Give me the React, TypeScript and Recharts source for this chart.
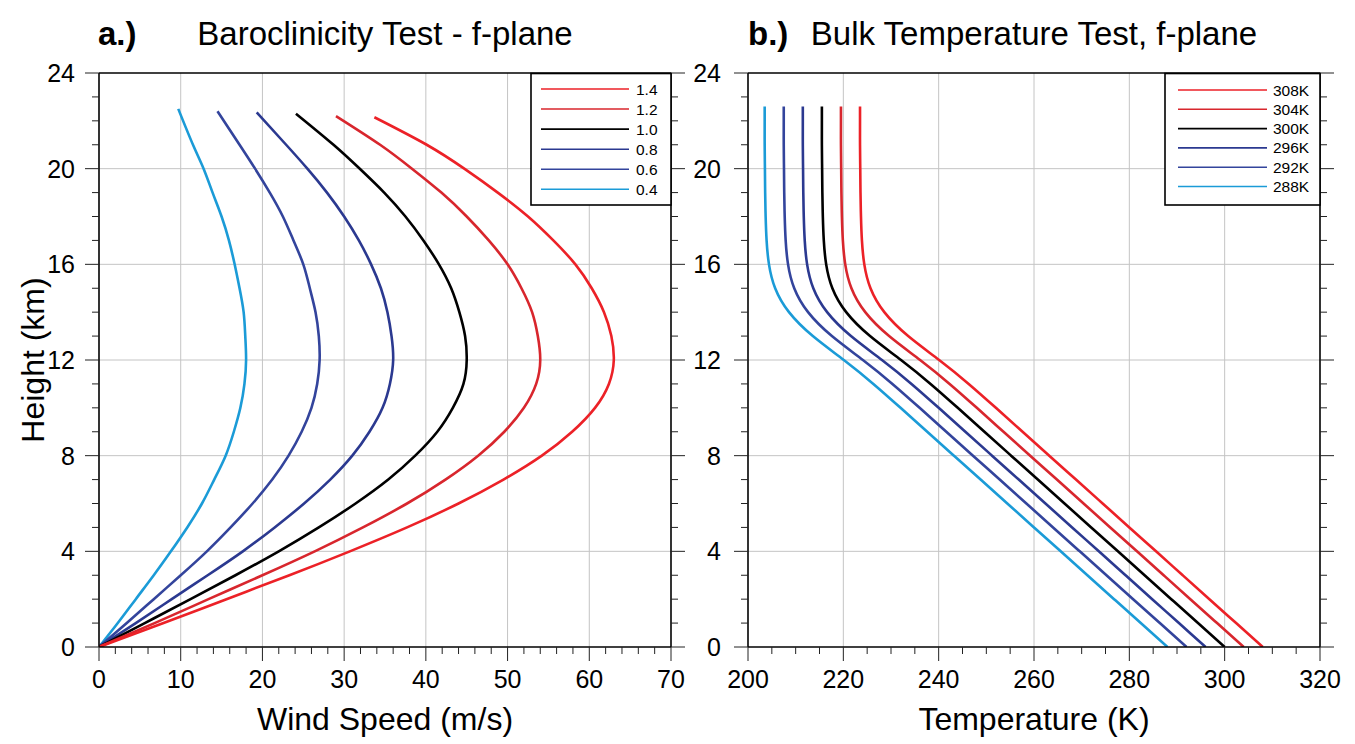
import React from "react";
import { LineChart, Line, XAxis, YAxis, ReferenceLine } from "recharts";

const FONT = "'Liberation Sans', Arial, Helvetica, sans-serif";

// ---- panel a: wind speed profiles (height km -> m/s)
const windFactors = ["1.4", "1.2", "1.0", "0.8", "0.6", "0.4"];
const windHeights = [0, 1, 2, 3, 4, 5, 6, 7, 8, 9, 10, 11, 12, 13, 14, 15, 16, 17, 18, 19, 20, 21];
const windTopHeights = [22.15, 22.2, 22.3, 22.35, 22.4, 22.5];
const wind14 = [0, 7.9, 15.6, 23.3, 30.7, 37.7, 44.0, 49.5, 54.2, 57.9, 60.7, 62.4, 63.0, 62.7, 61.8, 60.3, 58.3, 55.6, 52.5, 48.8, 44.7, 40.1, 33.7];
const wind12 = [0, 6.8, 13.4, 20.0, 26.4, 32.3, 37.7, 42.4, 46.4, 49.6, 52.0, 53.5, 54.0, 53.7, 53.0, 51.7, 50.0, 47.7, 45.0, 41.9, 38.3, 34.4, 29.0];
const wind10 = [0, 5.6, 11.2, 16.7, 22.0, 26.9, 31.4, 35.4, 38.7, 41.4, 43.3, 44.6, 45.0, 44.8, 44.1, 43.1, 41.6, 39.7, 37.5, 34.9, 31.9, 28.7, 24.1];
const wind08 = [0, 4.5, 8.9, 13.3, 17.6, 21.5, 25.1, 28.3, 31.0, 33.1, 34.7, 35.6, 36.0, 35.8, 35.3, 34.5, 33.3, 31.8, 30.0, 27.9, 25.5, 22.9, 19.3];
const wind06 = [0, 3.4, 6.7, 10.0, 13.2, 16.1, 18.8, 21.2, 23.2, 24.8, 26.0, 26.7, 27.0, 26.9, 26.5, 25.8, 25.0, 23.8, 22.5, 20.9, 19.1, 17.2, 14.5];
const wind04 = [0, 2.3, 4.5, 6.7, 8.8, 10.8, 12.6, 14.1, 15.5, 16.5, 17.3, 17.8, 18.0, 17.9, 17.7, 17.2, 16.6, 15.9, 15.0, 13.9, 12.8, 11.5, 9.7];
const windSeries = [wind14, wind12, wind10, wind08, wind06, wind04];

// ---- panel b: temperature profiles (height km -> K)
const tempLabels = ["308K", "304K", "300K", "296K", "292K", "288K"];
const tempHeights = [0, 1, 2, 3, 4, 5, 6, 7, 8, 9, 10, 11, 12, 13, 14, 15, 16, 17, 18, 19, 20, 21, 22, 22.6];
const temp308 = [308, 302.4, 296.8, 291.2, 285.6, 280.0, 274.4, 268.8, 263.2, 257.6, 252.0, 246.3, 240.1, 233.6, 228.6, 225.7, 224.4, 223.9, 223.7, 223.6, 223.55, 223.5, 223.5, 223.5];
const temp304 = [304, 298.4, 292.8, 287.2, 281.6, 276.0, 270.4, 264.8, 259.2, 253.6, 248.0, 242.3, 236.1, 229.6, 224.6, 221.7, 220.4, 219.9, 219.7, 219.6, 219.55, 219.5, 219.5, 219.5];
const temp300 = [300, 294.4, 288.8, 283.2, 277.6, 272.0, 266.4, 260.8, 255.2, 249.6, 244.0, 238.3, 232.1, 225.6, 220.6, 217.7, 216.4, 215.9, 215.7, 215.6, 215.55, 215.5, 215.5, 215.5];
const temp296 = [296, 290.4, 284.8, 279.2, 273.6, 268.0, 262.4, 256.8, 251.2, 245.6, 240.0, 234.3, 228.1, 221.6, 216.6, 213.7, 212.4, 211.9, 211.7, 211.6, 211.55, 211.5, 211.5, 211.5];
const temp292 = [292, 286.4, 280.8, 275.2, 269.6, 264.0, 258.4, 252.8, 247.2, 241.6, 236.0, 230.3, 224.1, 217.6, 212.6, 209.7, 208.4, 207.9, 207.7, 207.6, 207.55, 207.5, 207.5, 207.5];
const temp288 = [288, 282.4, 276.8, 271.2, 265.6, 260.0, 254.4, 248.8, 243.2, 237.6, 232.0, 226.3, 220.1, 213.6, 208.6, 205.7, 204.4, 203.9, 203.7, 203.6, 203.55, 203.5, 203.5, 203.5];
const tempSeries = [temp308, temp304, temp300, temp296, temp292, temp288];

// ---- ticks
const windTicks = [0, 2, 4, 6, 8, 10, 12, 14, 16, 18, 20, 22, 24, 26, 28, 30, 32, 34, 36, 38, 40, 42, 44, 46, 48, 50, 52, 54, 56, 58, 60, 62, 64, 66, 68, 70];
const windMajor = [0, 10, 20, 30, 40, 50, 60, 70];
const tempTicks = [200, 205, 210, 215, 220, 225, 230, 235, 240, 245, 250, 255, 260, 265, 270, 275, 280, 285, 290, 295, 300, 305, 310, 315, 320];
const tempMajor = [200, 220, 240, 260, 280, 300, 320];
const heightTicks = [0, 1, 2, 3, 4, 5, 6, 7, 8, 9, 10, 11, 12, 13, 14, 15, 16, 17, 18, 19, 20, 21, 22, 23, 24];
const heightMajor = [0, 4, 8, 12, 16, 20, 24];

const lineColors = ["#ec2127", "#d8262d", "#000000", "#2b3990", "#33449c", "#1b9bd7"];

const windRows = (vals: number[], i: number) =>
  vals.map((u, k) => ({ u, z: k < windHeights.length ? windHeights[k] : windTopHeights[i] }));
const tempRows = (vals: number[]) => vals.map((t, k) => ({ t, z: tempHeights[k] }));

const xTick = (majors: number[], side: "bottom" | "top") => (p: any) => {
  const v = p.payload.value;
  const major = majors.includes(v);
  const len = major ? 14 : 7;
  const dir = side === "bottom" ? 1 : -1;
  return (
    <g>
      <line x1={p.x} x2={p.x} y1={p.y} y2={p.y + dir * len} stroke="#222" strokeWidth={1} />
      {side === "bottom" && major && (
        <text x={p.x} y={p.y + 41} textAnchor="middle" fontSize={25} fontFamily={FONT} fill="#000">
          {v}
        </text>
      )}
    </g>
  );
};

const yTick = (majors: number[], side: "left" | "right", labelGap: number) => (p: any) => {
  const v = p.payload.value;
  const major = majors.includes(v);
  const len = major ? 14 : 7;
  const dir = side === "left" ? -1 : 1;
  return (
    <g>
      <line x1={p.x} x2={p.x + dir * len} y1={p.y} y2={p.y} stroke="#222" strokeWidth={1} />
      {side === "left" && major && labelGap > 0 && (
        <text x={p.x - labelGap} y={p.y + 9} textAnchor="end" fontSize={25} fontFamily={FONT} fill="#000">
          {v}
        </text>
      )}
    </g>
  );
};

const axisLine = { stroke: "#000", strokeWidth: 1.6 };
const gridStyle = { stroke: "#c4c4c4", strokeWidth: 1 };

interface PanelProps {
  xKey: string;
  xDomain: [number, number];
  xTicks: number[];
  xMajor: number[];
  labelGap: number;
  width: number;
  margin: { top: number; right: number; bottom: number; left: number };
  children: React.ReactNode;
}

// axes are 1px thick so the margins place the plot box exactly
const Panel = ({ xKey, xDomain, xTicks, xMajor, labelGap, width, margin, children }: PanelProps) => (
  <LineChart width={width} height={744} margin={margin}>
    {xMajor.slice(1, -1).map((v) => (
      <ReferenceLine key={"gx" + v} x={v} {...gridStyle} />
    ))}
    {heightMajor.slice(1, -1).map((v) => (
      <ReferenceLine key={"gy" + v} y={v} {...gridStyle} />
    ))}
    <XAxis
      dataKey={xKey}
      type="number"
      domain={xDomain}
      allowDataOverflow
      ticks={xTicks}
      interval={0}
      height={1}
      tickSize={0}
      tickMargin={0}
      tickLine={false}
      axisLine={axisLine}
      tick={xTick(xMajor, "bottom")}
    />
    <XAxis
      xAxisId="top"
      orientation="top"
      type="number"
      domain={xDomain}
      allowDataOverflow
      ticks={xTicks}
      interval={0}
      height={1}
      tickSize={0}
      tickMargin={0}
      tickLine={false}
      axisLine={axisLine}
      tick={xTick(xMajor, "top")}
    />
    <YAxis
      dataKey="z"
      type="number"
      domain={[0, 24]}
      allowDataOverflow
      ticks={heightTicks}
      interval={0}
      width={1}
      tickSize={0}
      tickMargin={0}
      tickLine={false}
      axisLine={axisLine}
      tick={yTick(heightMajor, "left", labelGap)}
    />
    <YAxis
      yAxisId="right"
      orientation="right"
      type="number"
      domain={[0, 24]}
      allowDataOverflow
      ticks={heightTicks}
      interval={0}
      width={1}
      tickSize={0}
      tickMargin={0}
      tickLine={false}
      axisLine={axisLine}
      tick={yTick(heightMajor, "right", 0)}
    />
    {children}
  </LineChart>
);

const LegendBox = ({ x, y, w, h, lineX1, lineX2, textX, rowY, rowStep, labels }: any) => (
  <g>
    <rect x={x} y={y} width={w} height={h} fill="#fff" stroke="#000" strokeWidth={1.6} />
    {labels.map((lab: string, i: number) => (
      <g key={lab}>
        <line x1={lineX1} x2={lineX2} y1={rowY + i * rowStep} y2={rowY + i * rowStep} stroke={lineColors[i]} strokeWidth={1.6} />
        <text x={textX} y={rowY + i * rowStep + 5.5} fontSize={15.5} fontFamily={FONT} fill="#000">
          {lab}
        </text>
      </g>
    ))}
  </g>
);

export default function App() {
  const order = [5, 4, 3, 2, 1, 0];
  return (
    <div style={{ position: "absolute", left: 0, top: 0, width: 1355, height: 744, background: "#fff", overflow: "hidden" }}>
      <div style={{ position: "absolute", left: 0, top: 0 }}>
        <Panel xKey="u" xDomain={[0, 70]} xTicks={windTicks} xMajor={windMajor} labelGap={24} width={700} margin={{ top: 72, right: 28, bottom: 96, left: 98 }}>
          {order.map((i) => (
            <Line
              key={windFactors[i]}
              data={windRows(windSeries[i], i)}
              dataKey="z"
              type="natural"
              stroke={lineColors[i]}
              strokeWidth={2.6}
              dot={false}
              isAnimationActive={false}
            />
          ))}
        </Panel>
      </div>
      <div style={{ position: "absolute", left: 650, top: 0 }}>
        <Panel xKey="t" xDomain={[200, 320]} xTicks={tempTicks} xMajor={tempMajor} labelGap={27} width={705} margin={{ top: 72, right: 34, bottom: 96, left: 97 }}>
          {order.map((i) => (
            <Line
              key={tempLabels[i]}
              data={tempRows(tempSeries[i])}
              dataKey="z"
              type="natural"
              stroke={lineColors[i]}
              strokeWidth={2.6}
              dot={false}
              isAnimationActive={false}
            />
          ))}
        </Panel>
      </div>
      <svg width={1355} height={744} style={{ position: "absolute", left: 0, top: 0, pointerEvents: "none" }}>
        <g fontFamily={FONT} fill="#000">
          <text x={98} y={44.5} fontSize={33} fontWeight="bold">a.)</text>
          <text x={385} y={44.5} fontSize={33} textAnchor="middle">Baroclinicity Test - f-plane</text>
          <text x={748} y={44.5} fontSize={33} fontWeight="bold">b.)</text>
          <text x={1034} y={44.5} fontSize={33} textAnchor="middle">Bulk Temperature Test, f-plane</text>
          <text x={385} y={730} fontSize={32} textAnchor="middle">Wind Speed (m/s)</text>
          <text x={1034} y={730} fontSize={32} textAnchor="middle">Temperature (K)</text>
          <text transform="translate(44 360) rotate(-90)" fontSize={32} textAnchor="middle">Height (km)</text>
        </g>
        <LegendBox x={531} y={73.5} w={140} h={131.5} lineX1={541} lineX2={629} textX={636} rowY={89} rowStep={20.06} labels={windFactors} />
        <LegendBox x={1165} y={73.5} w={155} h={131.5} lineX1={1178} lineX2={1267} textX={1273} rowY={90} rowStep={19.3} labels={tempLabels} />
      </svg>
    </div>
  );
}
